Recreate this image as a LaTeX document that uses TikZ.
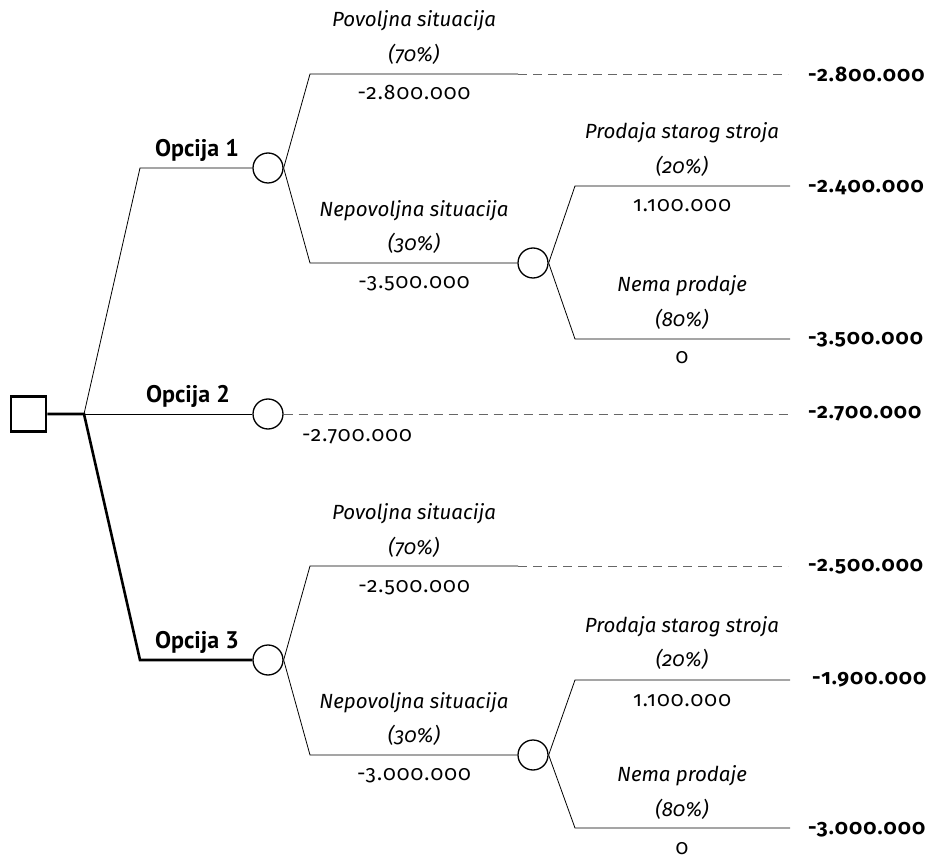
\documentclass[tikz,border=0pt]{standalone}
\usepackage{fontspec}
\setmainfont{Fira Sans}[Numbers=OldStyle]
\newfontfamily\numfont{Fira Sans}[Numbers=OldStyle, LetterSpace=5]
\newfontfamily\optfont{PT Sans}
\begin{document}
\begin{tikzpicture}[x=1pt,y=-1pt,
  thinln/.style={line width=0.8pt},
  thickln/.style={line width=2.6pt},
  chance/.style={circle, draw, line width=1.3pt, minimum size=30pt, inner sep=0pt},
  decision/.style={rectangle, draw, line width=2.6pt, minimum size=35pt, inner sep=0pt},
  dashln/.style={line width=0.8pt, draw=black!60, dash pattern=on 9pt off 6pt},
  lab/.style={font=\fontsize{20.5}{22}\selectfont\itshape, anchor=base, inner sep=0pt},
  val/.style={font=\numfont\fontsize{21}{23}\selectfont, anchor=base, inner sep=0pt},
  endv/.style={font=\numfont\fontsize{21}{23}\selectfont\bfseries, anchor=west, inner sep=0pt},
  opt/.style={font=\optfont\bfseries\fontsize{24}{26}\selectfont, anchor=base, inner sep=0pt}]
\path[use as bounding box] (0,0) rectangle (932,858);

% decision node and options
\node[decision] (root) at (28.5,414) {};
\coordinate (j) at (84,414);
\coordinate (o1) at (140,168);
\coordinate (o3) at (140,660);
\node[chance] (c1) at (268,168) {};
\node[chance] (c2) at (268,414) {};
\node[chance] (c3) at (268,660) {};
\draw[thickln] (root.east) -- (j) -- (o3) -- (c3.west);
\draw[thinln] (j) -- (o1) -- (c1.west);
\draw[thinln] (j) -- (c2.west);
\node[opt] (t1) at (197,157) {Opcija 1};
\node[opt] (t2) at (188,403) {Opcija 2};
\node[opt] (t3) at (197,648) {Opcija 3};

% Opcija 1
\coordinate (a1) at (310,74);
\coordinate (d1) at (518,74);
\coordinate (e1) at (788,74);
\coordinate (b1) at (310,263);
\node[chance] (c11) at (533,263) {};
\draw[thinln] (c1.east) -- (a1) -- (d1);
\draw[dashln] (d1) -- (e1);
\draw[thinln] (c1.east) -- (b1) -- (c11.west);
\node[lab] (l1a) at (414,27) {Povoljna situacija};
\node[lab] (l1b) at (414,62) {(70\%)};
\node[val] (v1) at (414,100) {-2.800.000};
\node[endv] (r1) at (808,74) {-2.800.000};
\node[lab] (l2a) at (414,217) {Nepovoljna situacija};
\node[lab] (l2b) at (414,251) {(30\%)};
\node[val] (v2) at (414,289) {-3.500.000};

\coordinate (a11) at (575,186);
\coordinate (e11) at (790,186);
\coordinate (b11) at (575,339);
\coordinate (f11) at (790,339);
\draw[thinln] (c11.east) -- (a11) -- (e11);
\draw[thinln] (c11.east) -- (b11) -- (f11);
\node[lab] (l3a) at (682,139) {Prodaja starog stroja};
\node[lab] (l3b) at (682,174) {(20\%)};
\node[val] (v3) at (682,212) {1.100.000};
\node[endv] (r3) at (808,188) {-2.400.000};
\node[lab] (l4a) at (682,292) {Nema prodaje};
\node[lab] (l4b) at (682,327) {(80\%)};
\node[val] (v4) at (682,364) {0};
\node[endv] (r4) at (808,340) {-3.500.000};

% Opcija 2
\coordinate (e2) at (788,414);
\draw[dashln] (c2.east) -- (e2);
\node[val] (v5) at (357,442) {-2.700.000};
\node[endv] (r5) at (808,414) {-2.700.000};

% Opcija 3
\coordinate (a3) at (310,566);
\coordinate (d3) at (518,566);
\coordinate (e3) at (788,566);
\coordinate (b3) at (310,755);
\node[chance] (c31) at (533,755) {};
\draw[thinln] (c3.east) -- (a3) -- (d3);
\draw[dashln] (d3) -- (e3);
\draw[thinln] (c3.east) -- (b3) -- (c31.west);
\node[lab] (l6a) at (414,519) {Povoljna situacija};
\node[lab] (l6b) at (414,554) {(70\%)};
\node[val] (v6) at (414,592) {-2.500.000};
\node[endv] (r6) at (808,567) {-2.500.000};
\node[lab] (l7a) at (414,708) {Nepovoljna situacija};
\node[lab] (l7b) at (414,742) {(30\%)};
\node[val] (v7) at (414,780) {-3.000.000};

\coordinate (a31) at (575,680);
\coordinate (e31) at (790,680);
\coordinate (b31) at (575,828);
\coordinate (f31) at (790,828);
\draw[thinln] (c31.east) -- (a31) -- (e31);
\draw[thinln] (c31.east) -- (b31) -- (f31);
\node[lab] (l8a) at (682,632) {Prodaja starog stroja};
\node[lab] (l8b) at (682,666) {(20\%)};
\node[val] (v8) at (682,706) {1.100.000};
\node[endv] (r8) at (812,680) {-1.900.000};
\node[lab] (l9a) at (682,781) {Nema prodaje};
\node[lab] (l9b) at (682,816) {(80\%)};
\node[val] (v9) at (682,854) {0};
\node[endv] (r9) at (808,830) {-3.000.000};
\end{tikzpicture}
\end{document}
